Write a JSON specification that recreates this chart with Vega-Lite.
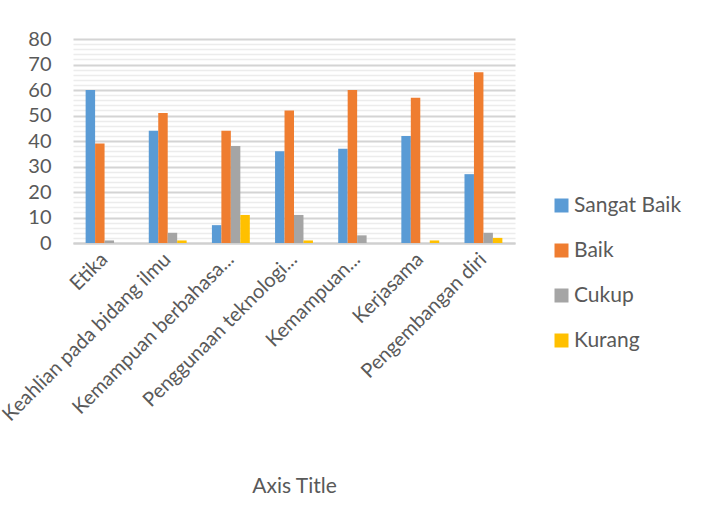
{
  "$schema": "https://vega.github.io/schema/vega-lite/v6.json",
  "autosize": {"type": "none"},
  "padding": {"left": 73, "top": 39, "right": 195, "bottom": 281},
  "width": 442,
  "height": 204,
  "background": "white",
  "data": {
    "values": [
      {"cat": "Etika", "s": "Sangat Baik", "v": 60},
      {"cat": "Etika", "s": "Baik", "v": 39},
      {"cat": "Etika", "s": "Cukup", "v": 1},
      {"cat": "Etika", "s": "Kurang", "v": 0},
      {"cat": "Keahlian pada bidang ilmu", "s": "Sangat Baik", "v": 44},
      {"cat": "Keahlian pada bidang ilmu", "s": "Baik", "v": 51},
      {"cat": "Keahlian pada bidang ilmu", "s": "Cukup", "v": 4},
      {"cat": "Keahlian pada bidang ilmu", "s": "Kurang", "v": 1},
      {"cat": "Kemampuan berbahasa...", "s": "Sangat Baik", "v": 7},
      {"cat": "Kemampuan berbahasa...", "s": "Baik", "v": 44},
      {"cat": "Kemampuan berbahasa...", "s": "Cukup", "v": 38},
      {"cat": "Kemampuan berbahasa...", "s": "Kurang", "v": 11},
      {"cat": "Penggunaan teknologi...", "s": "Sangat Baik", "v": 36},
      {"cat": "Penggunaan teknologi...", "s": "Baik", "v": 52},
      {"cat": "Penggunaan teknologi...", "s": "Cukup", "v": 11},
      {"cat": "Penggunaan teknologi...", "s": "Kurang", "v": 1},
      {"cat": "Kemampuan...", "s": "Sangat Baik", "v": 37},
      {"cat": "Kemampuan...", "s": "Baik", "v": 60},
      {"cat": "Kemampuan...", "s": "Cukup", "v": 3},
      {"cat": "Kemampuan...", "s": "Kurang", "v": 0},
      {"cat": "Kerjasama", "s": "Sangat Baik", "v": 42},
      {"cat": "Kerjasama", "s": "Baik", "v": 57},
      {"cat": "Kerjasama", "s": "Cukup", "v": 0},
      {"cat": "Kerjasama", "s": "Kurang", "v": 1},
      {"cat": "Pengembangan diri", "s": "Sangat Baik", "v": 27},
      {"cat": "Pengembangan diri", "s": "Baik", "v": 67},
      {"cat": "Pengembangan diri", "s": "Cukup", "v": 4},
      {"cat": "Pengembangan diri", "s": "Kurang", "v": 2}
    ]
  },
  "mark": {"type": "bar"},
  "encoding": {
    "x": {
      "field": "cat",
      "type": "nominal",
      "sort": null,
      "scale": {"paddingInner": 0.4, "paddingOuter": 0.2},
      "axis": {
        "title": "Axis Title",
        "titleFont": "Lato",
        "titleFontSize": 21,
        "titleFontWeight": "normal",
        "titleColor": "#595959",
        "titleX": 221,
        "titleY": 243,
        "titleBaseline": "middle",
        "labelAngle": -45,
        "labelAlign": "right",
        "labelBaseline": "middle",
        "labelFont": "Lato",
        "labelFontSize": 20,
        "labelColor": "#595959",
        "labelPadding": 13,
        "labelLimit": 0,
        "labelOverlap": false,
        "ticks": false,
        "domainColor": "#d0d0d0",
        "domainWidth": 2,
        "grid": false
      }
    },
    "xOffset": {"field": "s", "type": "nominal", "sort": ["Sangat Baik", "Baik", "Cukup", "Kurang"], "scale": {"paddingInner": 0}},
    "y": {
      "field": "v",
      "type": "quantitative",
      "scale": {"domain": [0, 80], "nice": false},
      "axis": {
        "title": null,
        "values": [0,2,4,6,8,10,12,14,16,18,20,22,24,26,28,30,32,34,36,38,40,42,44,46,48,50,52,54,56,58,60,62,64,66,68,70,72,74,76,78,80],
        "labelExpr": "datum.value % 10 === 0 ? datum.label : ''",
        "labelFont": "Lato",
        "labelFontSize": 20,
        "labelColor": "#595959",
        "labelPadding": 22,
        "labelOverlap": false,
        "labelBound": false,
        "labelFlush": false,
        "ticks": false,
        "domain": false,
        "gridColor": {"condition": {"test": "datum.value % 10 === 0", "value": "#d4d4d4"}, "value": "#ececec"},
        "gridWidth": {"condition": {"test": "datum.value % 10 === 0", "value": 2}, "value": 1.5}
      }
    },
    "color": {
      "field": "s",
      "type": "nominal",
      "sort": ["Sangat Baik", "Baik", "Cukup", "Kurang"],
      "scale": {"domain": ["Sangat Baik", "Baik", "Cukup", "Kurang"], "range": ["#5a9bd5", "#ef7d30", "#a5a5a5", "#ffc000"]},
      "legend": {
        "title": null,
        "orient": "none",
        "legendX": 478,
        "legendY": 156,
        "symbolType": "square",
        "symbolSize": 196,
        "symbolStrokeWidth": 0,
        "labelFont": "Lato",
        "labelFontSize": 21,
        "labelColor": "#595959",
        "labelOffset": 2,
        "rowPadding": 23
      }
    }
  },
  "config": {"view": {"stroke": null}}
}
